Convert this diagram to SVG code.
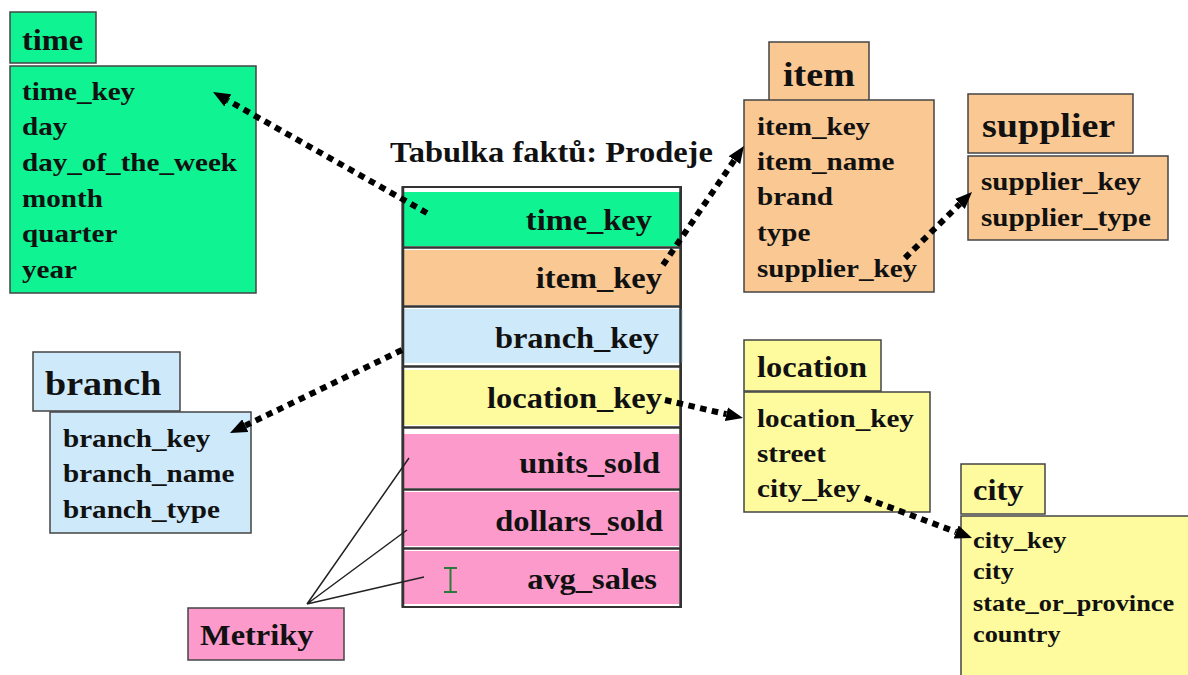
<svg xmlns="http://www.w3.org/2000/svg" width="1188" height="675" viewBox="0 0 1188 675">
<style>
  text { font-family: "Liberation Serif", "Times New Roman", serif; font-weight: bold; fill: #111; }
  .box { stroke: #444; stroke-width: 1.5; }
  .green { fill: #10F392; }
  .orange { fill: #FAC892; }
  .blue { fill: #CDE9FA; }
  .yellow { fill: #FDFB9E; }
  .pink { fill: #FB9ACB; }
  .t29 { font-size: 29px; }
  .t34 { font-size: 34px; }
  .b26 { font-size: 26px; }
  .b23 { font-size: 23.5px; }
  .end { text-anchor: end; }
  .dots { stroke: #000; stroke-width: 6; stroke-dasharray: 6.5 5.5; fill: none; marker-end: url(#ah); }
  .thin { stroke: #222; stroke-width: 1.5; fill: none; }
  .sep { stroke: #333; stroke-width: 2.5; }
</style>
<defs>
  <marker id="ah" markerUnits="userSpaceOnUse" viewBox="0 0 17 14" markerWidth="17" markerHeight="14" refX="0" refY="7" orient="auto">
    <path d="M0,0 L17,7 L0,14 z" fill="#000"/>
  </marker>
</defs>
<rect width="1188" height="675" fill="#fff"/>

<g id="fact">
  <g transform="translate(390 0) scale(1.12 1)"><text class="t29" x="0" y="162">Tabulka faktů: Prodeje</text></g>
  <rect x="402.5" y="187" width="278.5" height="420" fill="#fff" stroke="#333" stroke-width="2"/>
  <rect class="green" x="404" y="192" width="277" height="54"/>
  <rect class="orange" x="404" y="250" width="277" height="55"/>
  <rect class="blue" x="404" y="309" width="279" height="54"/>
  <rect class="yellow" x="404" y="370" width="277" height="55"/>
  <rect class="pink" x="404" y="434" width="275" height="54"/>
  <rect class="pink" x="404" y="492" width="275" height="54"/>
  <rect class="pink" x="404" y="551" width="275" height="53"/>
  <line class="sep" x1="402" y1="247.5" x2="681" y2="247.5"/>
  <line class="sep" x1="402" y1="306.5" x2="681" y2="306.5"/>
  <line class="sep" x1="402" y1="366.5" x2="681" y2="366.5"/>
  <line class="sep" x1="402" y1="427.5" x2="681" y2="427.5"/>
  <line class="sep" x1="402" y1="489.5" x2="681" y2="489.5"/>
  <line class="sep" x1="402" y1="548.5" x2="681" y2="548.5"/>
  <line class="sep" x1="403" y1="187" x2="403" y2="607"/>
  <line class="sep" x1="680.5" y1="187" x2="680.5" y2="607"/>
  <g transform="translate(652 0) scale(1.12 1)"><text class="t29 end" x="0" y="230">time_key</text></g>
  <g transform="translate(662 0) scale(1.12 1)"><text class="t29 end" x="0" y="288">item_key</text></g>
  <g transform="translate(659 0) scale(1.12 1)"><text class="t29 end" x="0" y="348">branch_key</text></g>
  <g transform="translate(662 0) scale(1.12 1)"><text class="t29 end" x="0" y="408">location_key</text></g>
  <g transform="translate(660 0) scale(1.12 1)"><text class="t29 end" x="0" y="473">units_sold</text></g>
  <g transform="translate(663 0) scale(1.12 1)"><text class="t29 end" x="0" y="531">dollars_sold</text></g>
  <g transform="translate(657 0) scale(1.12 1)"><text class="t29 end" x="0" y="589">avg_sales</text></g>
  <path d="M444,568 H457 M450.5,568 V592 M444,592 H457" stroke="#2A7A3C" stroke-width="2" fill="none"/>
</g>

<g id="time">
  <rect class="box green" x="10" y="12" width="86" height="51"/>
  <rect class="box green" x="10" y="66" width="246" height="227"/>
  <g transform="translate(22 0) scale(1.12 1)">
    <text class="t29" x="0" y="50">time</text>
    <text class="b26" x="0" y="100">time_key</text>
    <text class="b26" x="0" y="135.5">day</text>
    <text class="b26" x="0" y="171">day_of_the_week</text>
    <text class="b26" x="0" y="207">month</text>
    <text class="b26" x="0" y="242.5">quarter</text>
    <text class="b26" x="0" y="278">year</text>
  </g>
</g>

<g id="item">
  <rect class="box orange" x="769" y="42" width="100" height="59"/>
  <rect class="box orange" x="744" y="100" width="190" height="192"/>
  <g transform="translate(783 0) scale(1.12 1)"><text class="t34" x="0" y="86">item</text></g>
  <g transform="translate(757 0) scale(1.12 1)">
    <text class="b26" x="0" y="135">item_key</text>
    <text class="b26" x="0" y="170">item_name</text>
    <text class="b26" x="0" y="205.5">brand</text>
    <text class="b26" x="0" y="241">type</text>
    <text class="b26" x="0" y="277">supplier_key</text>
  </g>
</g>

<g id="supplier">
  <rect class="box orange" x="968" y="94" width="165" height="59"/>
  <rect class="box orange" x="968" y="156" width="200" height="84"/>
  <g transform="translate(982 0) scale(1.12 1)"><text class="t34" x="0" y="137">supplier</text></g>
  <g transform="translate(981 0) scale(1.12 1)">
    <text class="b26" x="0" y="190">supplier_key</text>
    <text class="b26" x="0" y="226">supplier_type</text>
  </g>
</g>

<g id="branch">
  <rect class="box blue" x="33" y="352" width="147" height="59"/>
  <rect class="box blue" x="50" y="412" width="201" height="121"/>
  <g transform="translate(45 0) scale(1.12 1)"><text class="t34" x="0" y="395">branch</text></g>
  <g transform="translate(63 0) scale(1.12 1)">
    <text class="b26" x="0" y="447">branch_key</text>
    <text class="b26" x="0" y="482.5">branch_name</text>
    <text class="b26" x="0" y="518">branch_type</text>
  </g>
</g>

<g id="location">
  <rect class="box yellow" x="744" y="340" width="137" height="51"/>
  <rect class="box yellow" x="744" y="392" width="186" height="120"/>
  <g transform="translate(757 0) scale(1.12 1)">
    <text class="t29" x="0" y="377">location</text>
    <text class="b26" x="0" y="427">location_key</text>
    <text class="b26" x="0" y="462">street</text>
    <text class="b26" x="0" y="497">city_key</text>
  </g>
</g>

<g id="city">
  <rect class="box yellow" x="961" y="464" width="84" height="50"/>
  <rect class="box yellow" x="961" y="516" width="240" height="170"/>
  <g transform="translate(973 0) scale(1.12 1)">
    <text class="t29" x="0" y="500">city</text>
    <text class="b23" x="0" y="548">city_key</text>
    <text class="b23" x="0" y="579">city</text>
    <text class="b23" x="0" y="611">state_or_province</text>
    <text class="b23" x="0" y="642">country</text>
  </g>
</g>

<g id="metriky">
  <rect class="box pink" x="188" y="608" width="156" height="52"/>
  <g transform="translate(200 0) scale(1.12 1)"><text class="t29" x="0" y="645">Metriky</text></g>
</g>

<g id="connectors">
  <path class="dots" d="M427,213 L227.8,100.4"/>
  <path class="dots" d="M663,265 L734.4,160.1"/>
  <path class="dots" d="M905,258 L959.9,203.9"/>
  <path class="dots" d="M402,350 L245.3,425.6"/>
  <path class="dots" d="M665,400 L726.4,414.2"/>
  <path class="dots" d="M865,498 L956.1,532"/>
  <path class="thin" d="M307,604 L409,458 M307,604 L407,530 M307,604 L424,577"/>
</g>
</svg>
